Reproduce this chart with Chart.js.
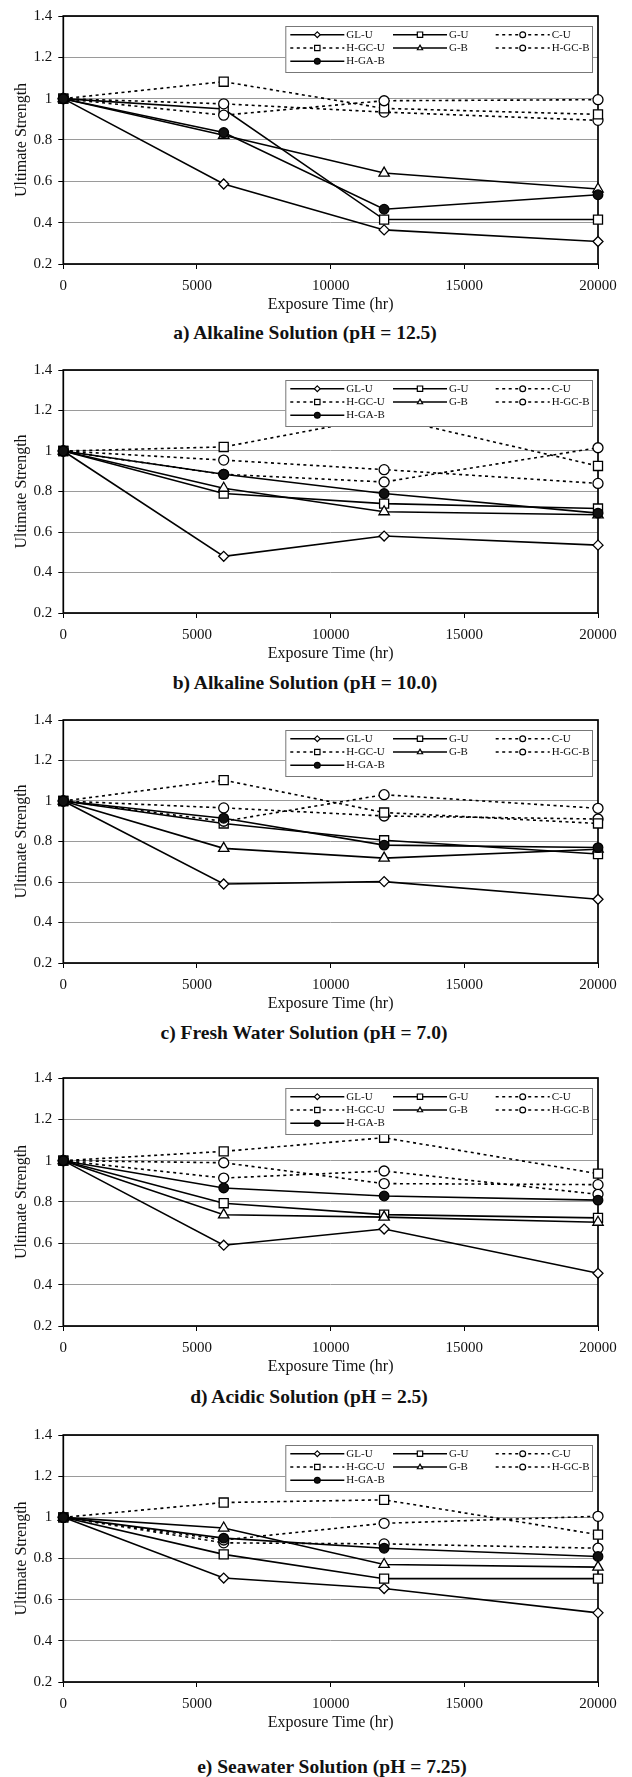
<!DOCTYPE html>
<html>
<head>
<meta charset="utf-8">
<script src="https://cdn.jsdelivr.net/npm/chart.js@4.4.1/dist/chart.umd.min.js"></script>
<style>
  html, body { margin: 0; padding: 0; background: #fff; }
  #page { position: relative; width: 632px; height: 1777px; overflow: hidden; }
  #page canvas { position: absolute; left: 0; }
  .cap { position: absolute; font: bold 19.5px "Liberation Serif", serif; line-height: 22px;
         text-align: center; color: #111; white-space: nowrap; }
</style>
</head>
<body>
<div id="page"></div>
<script>
// ── DATA ─────────────────────────────────────────────────────────────────────
const hours = [0, 6000, 12000, 20000];
const xTicks = [0, 5000, 10000, 15000, 20000];
const yTicks = [0.2, 0.4, 0.6, 0.8, 1, 1.2, 1.4];
const captions = [
  'a) Alkaline Solution (pH = 12.5)',
  'b) Alkaline Solution (pH = 10.0)',
  'c) Fresh Water Solution (pH = 7.0)',
  'd) Acidic Solution (pH = 2.5)',
  'e) Seawater Solution (pH = 7.25)'
];
const seriesNames = ['GL-U', 'G-U', 'C-U', 'H-GC-U', 'G-B', 'H-GC-B', 'H-GA-B'];

// one row per panel (a..e), values at 0 / 6000 / 12000 / 20000 hr
const GL_U = [
  [1, 0.587, 0.365, 0.309],
  [1, 0.480, 0.580, 0.535],
  [1, 0.590, 0.602, 0.515],
  [1, 0.591, 0.669, 0.455],
  [1, 0.705, 0.654, 0.536]
];
const G_U = [
  [1, 0.950, 0.415, 0.415],
  [1, 0.790, 0.740, 0.716],
  [1, 0.889, 0.806, 0.738],
  [1, 0.794, 0.739, 0.723],
  [1, 0.820, 0.702, 0.702]
];
const C_U = [
  [1, 0.975, 0.935, 0.895],
  [1, 0.955, 0.908, 0.840],
  [1, 0.966, 0.926, 0.911],
  [1, 0.990, 0.889, 0.884],
  [1, 0.876, 0.871, 0.850]
];
const H_GC_U = [
  [1, 1.082, 0.953, 0.924],
  [1, 1.020, 1.170, 0.926],
  [1, 1.103, 0.943, 0.889],
  [1, 1.045, 1.111, 0.937],
  [1, 1.072, 1.085, 0.916]
];
const G_B = [
  [1, 0.823, 0.640, 0.563],
  [1, 0.816, 0.700, 0.685],
  [1, 0.766, 0.718, 0.762],
  [1, 0.738, 0.727, 0.702],
  [1, 0.948, 0.771, 0.758]
];
const H_GC_B = [
  [1, 0.920, 0.990, 0.995],
  [1, 0.885, 0.847, 1.016],
  [1, 0.900, 1.031, 0.964],
  [1, 0.916, 0.950, 0.837],
  [1, 0.890, 0.971, 1.005]
];
const H_GA_B = [
  [1, 0.836, 0.465, 0.535],
  [1, 0.885, 0.790, 0.693],
  [1, 0.915, 0.782, 0.770],
  [1, 0.868, 0.829, 0.809],
  [1, 0.899, 0.850, 0.810]
];
const seriesValues = [GL_U, G_U, C_U, H_GC_U, G_B, H_GC_B, H_GA_B];

// ── LOOKS ────────────────────────────────────────────────────────────────────
const FONT = '"Liberation Serif", "Times New Roman", serif';
const DOTS = [3, 3.5];
const looks = [
  { dash: [],   pt: 'rectRot',  r: 5.0, fill: '#fff' },
  { dash: [],   pt: 'rect',     r: 6.4, fill: '#fff' },
  { dash: DOTS, pt: 'circle',   r: 5.0, fill: '#fff' },
  { dash: DOTS, pt: 'rect',     r: 6.4, fill: '#fff' },
  { dash: [],   pt: 'triangle', r: 6.0, fill: '#fff' },
  { dash: DOTS, pt: 'circle',   r: 5.0, fill: '#fff' },
  { dash: [],   pt: 'circle',   r: 4.8, fill: '#111' }
];
// plot-area top / height and caption centre per panel
const panels = [
  { top: 14.7,   h: 248.6, capY: 333,    capX: 305 },
  { top: 369.3,  h: 244.0, capY: 683,    capX: 305 },
  { top: 719.3,  h: 244.0, capY: 1033,   capX: 304 },
  { top: 1076.7, h: 248.6, capY: 1396.7, capX: 309 },
  { top: 1434.3, h: 248.4, capY: 1767,   capX: 332 }
];
const PAD_TOP = 14, X_BAND = 52, PAD_BOTTOM = 4;

// ── PLUGINS ──────────────────────────────────────────────────────────────────
function drawMark(ctx, style, x, y, r, fill) {
  ctx.beginPath();
  if (style === 'circle') ctx.arc(x, y, r, 0, Math.PI * 2);
  else if (style === 'rect') { const s = r * Math.SQRT1_2; ctx.rect(x - s, y - s, 2 * s, 2 * s); }
  else if (style === 'rectRot') { ctx.moveTo(x, y - r); ctx.lineTo(x + r, y); ctx.lineTo(x, y + r); ctx.lineTo(x - r, y); ctx.closePath(); }
  else if (style === 'triangle') { ctx.moveTo(x, y - r); ctx.lineTo(x + r * 0.9, y + r * 0.6); ctx.lineTo(x - r * 0.9, y + r * 0.6); ctx.closePath(); }
  ctx.fillStyle = fill; ctx.fill(); ctx.stroke();
}

const plotBox = {
  id: 'plotBox',
  beforeDatasetsDraw(chart) {
    const { ctx, chartArea: a } = chart;
    ctx.save();
    ctx.strokeStyle = '#000'; ctx.lineWidth = 1.7;
    ctx.strokeRect(a.left, a.top, a.right - a.left, a.bottom - a.top);
    ctx.restore();
  }
};

const boxLegend = {
  id: 'boxLegend',
  afterDatasetsDraw(chart) {
    const { ctx, chartArea: a } = chart;
    const L = a.left + 222, T = a.top + 10, W = a.right - 6 - L, H = 46;
    ctx.save();
    ctx.fillStyle = '#fff'; ctx.fillRect(L, T, W, H);
    ctx.strokeStyle = '#777'; ctx.lineWidth = 1; ctx.strokeRect(L + 0.5, T + 0.5, W, H);
    ctx.font = '11px ' + FONT; ctx.textBaseline = 'middle';
    chart.data.datasets.forEach((ds, i) => {
      const col = i % 3, row = Math.floor(i / 3);
      const x0 = L + 5 + col * 102.7, y = T + 8.7 + row * 13.3;
      ctx.strokeStyle = '#000'; ctx.lineWidth = 1.4; ctx.setLineDash(looks[i].dash);
      ctx.beginPath(); ctx.moveTo(x0, y); ctx.lineTo(x0 + 54, y); ctx.stroke();
      ctx.setLineDash([]); ctx.lineWidth = 1.2;
      drawMark(ctx, looks[i].pt, x0 + 27, y, looks[i].pt === 'rect' ? 3.8 : 2.9, looks[i].fill);
      ctx.fillStyle = '#111';
      ctx.fillText(ds.label, x0 + 56, y);
    });
    ctx.restore();
  }
};

// ── CHARTS ───────────────────────────────────────────────────────────────────
const page = document.getElementById('page');

panels.forEach((pn, p) => {
  const cv = document.createElement('canvas');
  const H = PAD_TOP + pn.h + X_BAND + PAD_BOTTOM;
  cv.width = 632; cv.height = Math.round(H);
  cv.style.width = '632px'; cv.style.height = Math.round(H) + 'px';
  cv.style.top = (pn.top - PAD_TOP) + 'px';
  page.appendChild(cv);

  const cap = document.createElement('div');
  cap.className = 'cap';
  cap.textContent = captions[p];
  cap.style.width = (pn.capX * 2) + 'px';
  cap.style.left = '0px';
  cap.style.top = (pn.capY - 11) + 'px';
  page.appendChild(cap);

  new Chart(cv.getContext('2d'), {
    type: 'line',
    data: {
      datasets: seriesNames.map((name, i) => ({
        label: name,
        data: hours.map((h, k) => ({ x: h, y: seriesValues[i][p][k] })),
        borderColor: '#000', borderWidth: 1.6, borderDash: looks[i].dash,
        pointStyle: looks[i].pt, pointRadius: looks[i].r,
        pointBackgroundColor: looks[i].fill, pointBorderColor: '#000', pointBorderWidth: 1.3,
        tension: 0, clip: false, order: 7 - i
      }))
    },
    options: {
      responsive: false, animation: false, devicePixelRatio: 1,
      layout: { padding: { top: PAD_TOP, right: 34, left: 0, bottom: PAD_BOTTOM } },
      scales: {
        x: {
          type: 'linear', min: 0, max: 20000,
          afterBuildTicks: s => { s.ticks = xTicks.map(v => ({ value: v })); },
          afterFit: s => { s.height = X_BAND; },
          ticks: { font: { family: FONT, size: 15 }, color: '#111', padding: 8, maxRotation: 0,
                   autoSkip: false, callback: v => String(v) },
          grid: { drawOnChartArea: false, drawTicks: true, tickLength: 5, tickColor: '#000' },
          border: { display: false },
          title: { display: true, text: 'Exposure Time (hr)', color: '#111',
                   font: { family: FONT, size: 16 }, padding: { top: 0, bottom: 2 } }
        },
        y: {
          min: 0.2, max: 1.4,
          afterBuildTicks: s => { s.ticks = yTicks.map(v => ({ value: v })); },
          afterFit: s => { s.width = 63.3; },
          ticks: { font: { family: FONT, size: 15 }, color: '#111', padding: 6,
                   callback: v => String(Number(v.toFixed(1))) },
          grid: { color: '#9a9a9a', lineWidth: 1, tickLength: 5, tickColor: '#000' },
          border: { display: false },
          title: { display: true, text: 'Ultimate Strength', color: '#111',
                   font: { family: FONT, size: 16 }, padding: { top: 12, bottom: 0 } }
        }
      },
      plugins: { legend: { display: false }, tooltip: { enabled: false }, title: { display: false } }
    },
    plugins: [plotBox, boxLegend]
  });
});
</script>
</body>
</html>
